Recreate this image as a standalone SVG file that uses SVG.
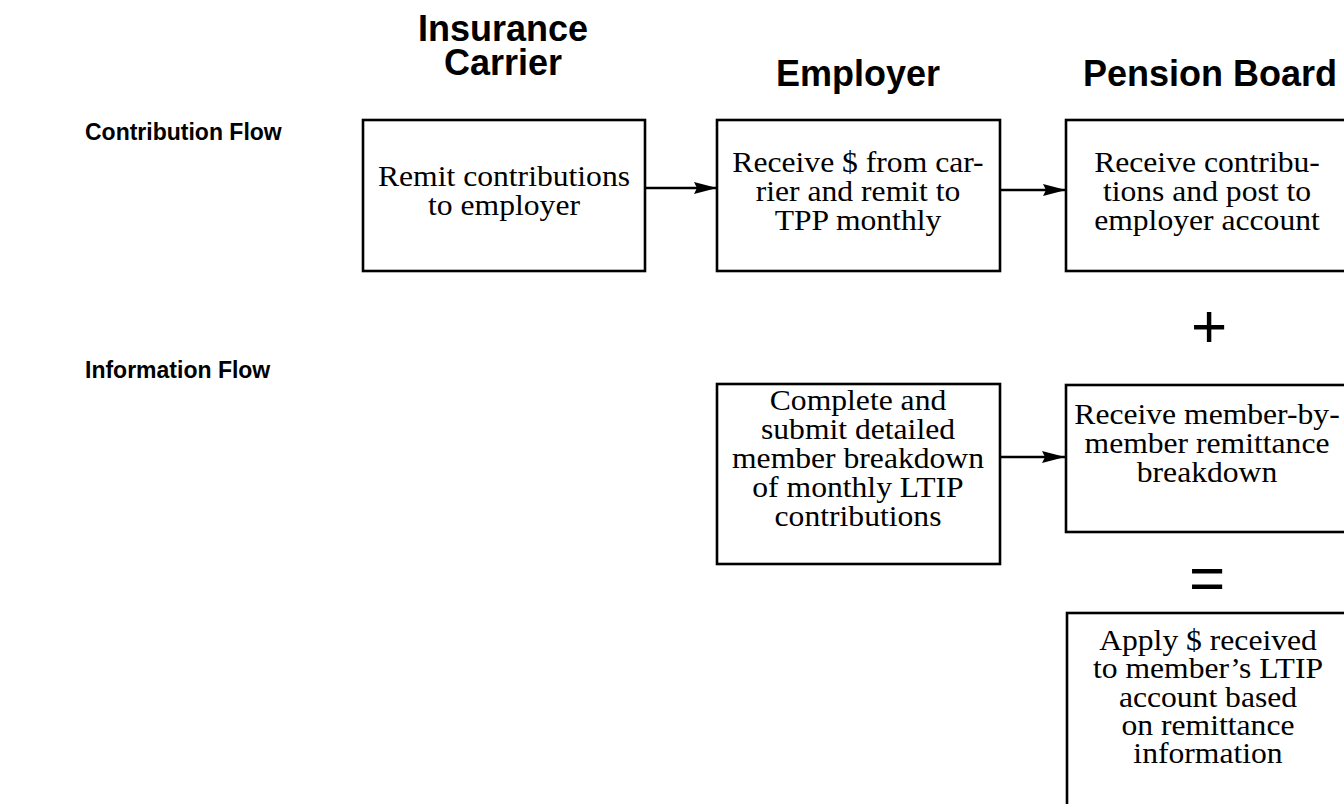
<svg xmlns="http://www.w3.org/2000/svg" width="1344" height="804" viewBox="0 0 1344 804">
<defs>
<style>
.box{fill:#fff;stroke:#000;stroke-width:2.6}
.t{font-family:"Liberation Serif","Times New Roman",serif;font-size:28.5px;fill:#000;text-anchor:middle}
.h{font-family:"Liberation Sans",Arial,sans-serif;font-weight:bold;font-size:36px;fill:#000;text-anchor:middle}
.r{font-family:"Liberation Sans",Arial,sans-serif;font-weight:bold;font-size:23px;fill:#000}
.op{font-family:"Liberation Sans",Arial,sans-serif;font-size:62px;fill:#000;text-anchor:middle}
.c{stroke:#000;stroke-width:2.4;fill:none}
</style>
<marker id="ah" markerUnits="userSpaceOnUse" markerWidth="26" markerHeight="14" refX="23" refY="6" orient="auto">
<path d="M0,0 L23,6 L0,12 L3,6 Z" fill="#000"/>
</marker>
</defs>
<rect width="1344" height="804" fill="#fff"/>
<g id="headings">
<text class="h" x="503" y="41">Insurance</text>
<text class="h" x="503" y="75">Carrier</text>
<text class="h" x="858" y="86">Employer</text>
<text class="h" x="1210" y="86">Pension Board</text>
</g>
<g id="row-labels">
<text class="r" x="85" y="140">Contribution Flow</text>
<text class="r" x="85" y="378">Information Flow</text>
</g>
<g id="carrier-remit">
<rect class="box" x="363" y="120" width="282" height="151"/>
<text class="t" transform="translate(504,186) scale(1.11,1)">Remit contributions</text>
<text class="t" transform="translate(504,215) scale(1.11,1)">to employer</text>
</g>
<g id="employer-receive">
<rect class="box" x="717" y="120" width="283" height="151"/>
<text class="t" transform="translate(858,172) scale(1.11,1)">Receive $ from car-</text>
<text class="t" transform="translate(858,201) scale(1.11,1)">rier and remit to</text>
<text class="t" transform="translate(858,230) scale(1.11,1)">TPP monthly</text>
</g>
<g id="board-receive">
<rect class="box" x="1066" y="120" width="300" height="151"/>
<text class="t" transform="translate(1207,172) scale(1.11,1)">Receive contribu-</text>
<text class="t" transform="translate(1207,201) scale(1.11,1)">tions and post to</text>
<text class="t" transform="translate(1207,230) scale(1.11,1)">employer account</text>
</g>
<g id="plus"><text class="op" x="1209" y="347">+</text></g>
<g id="employer-submit">
<rect class="box" x="717" y="384" width="283" height="180"/>
<text class="t" transform="translate(858,410) scale(1.11,1)">Complete and</text>
<text class="t" transform="translate(858,439) scale(1.11,1)">submit detailed</text>
<text class="t" transform="translate(858,468) scale(1.11,1)">member breakdown</text>
<text class="t" transform="translate(858,497) scale(1.11,1)">of monthly LTIP</text>
<text class="t" transform="translate(858,526) scale(1.11,1)">contributions</text>
</g>
<g id="board-breakdown">
<rect class="box" x="1066" y="385" width="300" height="147"/>
<text class="t" transform="translate(1207,424) scale(1.11,1)">Receive member-by-</text>
<text class="t" transform="translate(1207,453) scale(1.11,1)">member remittance</text>
<text class="t" transform="translate(1207,482) scale(1.11,1)">breakdown</text>
</g>
<g id="equals"><text class="op" x="1207" y="599">=</text></g>
<g id="board-apply">
<rect class="box" x="1067" y="613" width="300" height="230"/>
<text class="t" transform="translate(1208,650) scale(1.11,1)">Apply $ received</text>
<text class="t" transform="translate(1208,678) scale(1.11,1)">to member’s LTIP</text>
<text class="t" transform="translate(1208,707) scale(1.11,1)">account based</text>
<text class="t" transform="translate(1208,735) scale(1.11,1)">on remittance</text>
<text class="t" transform="translate(1208,763) scale(1.11,1)">information</text>
</g>
<g id="connectors">
<line class="c" x1="646" y1="188" x2="717" y2="188" marker-end="url(#ah)"/>
<line class="c" x1="1001" y1="190" x2="1066" y2="190" marker-end="url(#ah)"/>
<line class="c" x1="1001" y1="457" x2="1065" y2="457" marker-end="url(#ah)"/>
</g>
</svg>
